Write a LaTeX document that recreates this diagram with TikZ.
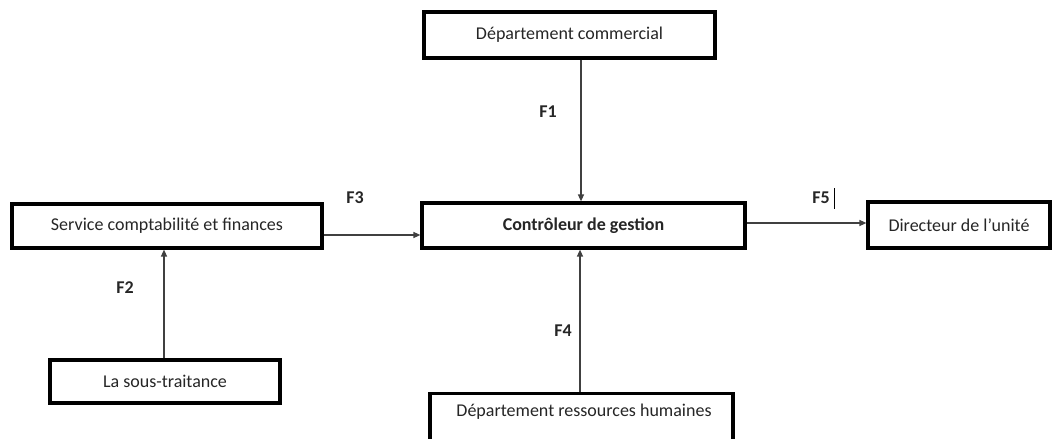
\documentclass[tikz,border=0pt]{standalone}
\usepackage{fontspec}
\setmainfont{Carlito}
\usetikzlibrary{arrows.meta}
\begin{document}
\begin{tikzpicture}[x=1pt,y=-1pt,
  box/.style={draw=black,line width=3.2pt,fill=white,inner sep=0pt,
    font=\fontsize{18}{21}\selectfont,text=black!85},
  flow/.style={draw=black!75,line width=1.3pt,-{Triangle[length=7pt,width=6pt]}},
  flab/.style={font=\fontsize{18}{21}\selectfont\bfseries,text=black!85}]
\useasboundingbox (0,0) rectangle (1053,439);
% entities
\node[box,minimum width=291pt,minimum height=46pt] (dc) at (569.5,35) {Département commercial};
\node[box,minimum width=310pt,minimum height=44pt] (scf) at (167,226) {Service comptabilité et finances};
\node[box,minimum width=323pt,minimum height=45pt,font=\fontsize{18}{21}\selectfont\bfseries] (cg) at (583.5,225.5) {Contrôleur de gestion};
\node[box,minimum width=182pt,minimum height=46pt] (du) at (959,225) {Directeur de l’unité};
\node[box,minimum width=230pt,minimum height=43pt] (st) at (165,381.5) {La sous-traitance};
\node[box,minimum width=303pt,minimum height=70pt,anchor=north] (rh) at (581.5,392) {};
\node[font=\fontsize{18}{21}\selectfont,text=black!85] (rht) at (584,412) {Département ressources humaines};
% flows
\draw[flow] (dc.south -| 581,0) -- (cg.north -| 581,0);
\draw[flow] (st.north -| 164,0) -- (scf.south -| 164,0);
\draw[flow] (scf.east |- 0,235) -- (cg.west |- 0,235);
\draw[flow] (rh.north -| 580,0) -- (cg.south -| 580,0);
\draw[flow] (cg.east |- 0,223) -- (du.west |- 0,223);
% flow labels
\node[flab] (f1) at (548,112) {F1};
\node[flab] (f2) at (125,288) {F2};
\node[flab] (f3) at (355,198) {F3};
\node[flab] (f4) at (563,331) {F4};
\node[flab] (f5) at (821,198) {F5};
\draw[line width=1.2pt] ([xshift=1.5pt]f5.east |- 0,188) -- ([xshift=1.5pt]f5.east |- 0,209);
\end{tikzpicture}
\end{document}
